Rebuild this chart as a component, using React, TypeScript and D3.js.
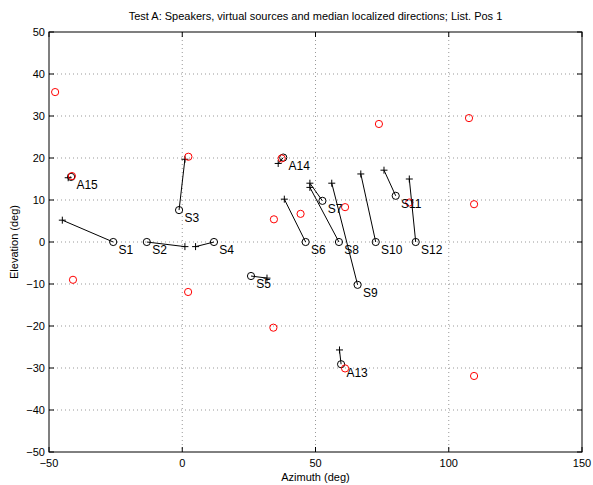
import React from "react";
import * as d3 from "d3";

const speakerLabels = ["S1","S2","S3","S4","S5","S6","S7","S8","S9","S10","S11","S12","A13","A14","A15"];
const speakerAz = [-25.9,-13.3,-1.2,11.9,25.8,46.3,52.6,58.8,65.8,72.6,80.1,87.6,59.6,37.9,-41.7];
const speakerEl = [0,0,7.6,0,-8.1,0,9.8,0,-10.2,0,11.0,0,-29.1,20.1,15.5];
const localizedAz = [-45.0,1.0,1.0,5.0,31.8,38.3,47.9,47.9,56.1,67.0,75.7,85.2,59.0,36.0,-42.8];
const localizedEl = [5.2,-1.1,19.7,-1.1,-8.6,10.2,14.0,13.0,14.0,16.2,17.1,15.0,-25.7,18.7,15.3];
const virtualAz = [-47.7,73.8,107.6,109.5,109.5,-41.0,2.2,44.4,34.4,34.2,61.1,85.2,61.1,2.3,-41.4,37.3];
const virtualEl = [35.7,28.1,29.5,9.0,-31.9,-9.0,-11.9,6.7,5.4,-20.4,8.3,9.4,-30.1,20.3,15.7,19.9];
const xTicks = [-50,0,50,100,150];
const yTicks = [-50,-40,-30,-20,-10,0,10,20,30,40,50];

const W = 593, H = 485;
const L = 49, R = 582, T = 32, B = 452;
const font = "'Liberation Sans', Arial, Helvetica, sans-serif";
const fmt = (v: number) => (v < 0 ? "\u2212" + Math.abs(v) : String(v));

export default function App() {
  const x = d3.scaleLinear().domain([-50, 150]).range([L, R]);
  const y = d3.scaleLinear().domain([-50, 50]).range([B, T]);
  const tl = 5;
  return (
    <svg width={W} height={H} style={{ position: "absolute", left: 0, top: 0, background: "#fff" }} fontFamily={font}>
      <rect x={0} y={0} width={W} height={H} fill="#fff" />
      {/* grid */}
      {xTicks.slice(1, -1).map((t) => (
        <line key={"gx" + t} x1={x(t)} x2={x(t)} y1={T} y2={B} stroke="#999" strokeWidth={1} strokeDasharray="1 3" />
      ))}
      {yTicks.slice(1, -1).map((t) => (
        <line key={"gy" + t} x1={L} x2={R} y1={y(t)} y2={y(t)} stroke="#999" strokeWidth={1} strokeDasharray="1 3" />
      ))}
      {/* ticks */}
      {xTicks.map((t) => (
        <g key={"tx" + t}>
          <line x1={x(t)} x2={x(t)} y1={B} y2={B - tl} stroke="#000" />
          <line x1={x(t)} x2={x(t)} y1={T} y2={T + tl} stroke="#000" />
          <text x={x(t)} y={B + 15} fontSize={11} textAnchor="middle">{fmt(t)}</text>
        </g>
      ))}
      {yTicks.map((t) => (
        <g key={"ty" + t}>
          <line x1={L} x2={L + tl} y1={y(t)} y2={y(t)} stroke="#000" />
          <line x1={R} x2={R - tl} y1={y(t)} y2={y(t)} stroke="#000" />
          <text x={L - 4} y={y(t)} fontSize={11} textAnchor="end" dominantBaseline="central">{fmt(t)}</text>
        </g>
      ))}
      {/* connecting lines */}
      {speakerAz.map((a, i) => (
        <line key={"ln" + i} x1={x(a)} y1={y(speakerEl[i])} x2={x(localizedAz[i])} y2={y(localizedEl[i])} stroke="#000" strokeWidth={1} />
      ))}
      {/* speakers */}
      {speakerAz.map((a, i) => (
        <circle key={"sp" + i} cx={x(a)} cy={y(speakerEl[i])} r={3.6} fill="none" stroke="#000" strokeWidth={1} />
      ))}
      {/* localized */}
      {localizedAz.map((a, i) => {
        const cx = x(a), cy = y(localizedEl[i]);
        return (
          <g key={"lo" + i}>
            <line x1={cx - 3.5} x2={cx + 3.5} y1={cy} y2={cy} stroke="#000" />
            <line x1={cx} x2={cx} y1={cy - 3.5} y2={cy + 3.5} stroke="#000" />
          </g>
        );
      })}
      {/* virtual sources */}
      {virtualAz.map((a, i) => (
        <circle key={"vs" + i} cx={x(a)} cy={y(virtualEl[i])} r={3.6} fill="none" stroke="#f00" strokeWidth={1} />
      ))}
      {/* labels */}
      {speakerAz.map((a, i) => (
        <text key={"lb" + i} x={x(a + 2)} y={y(speakerEl[i] - 2)} fontSize={12} dominantBaseline="central">{speakerLabels[i]}</text>
      ))}
      {/* box */}
      <rect x={L} y={T} width={R - L} height={B - T} fill="none" stroke="#000" strokeWidth={1} />
      <text x={(L + R) / 2} y={B + 29} fontSize={11} textAnchor="middle">Azimuth (deg)</text>
      <text transform={`translate(18,${(T + B) / 2}) rotate(-90)`} fontSize={11} textAnchor="middle">Elevation (deg)</text>
      <text x={(L + R) / 2} y={T - 12} fontSize={11} textAnchor="middle">Test A: Speakers, virtual sources and median localized directions; List. Pos 1</text>
    </svg>
  );
}
